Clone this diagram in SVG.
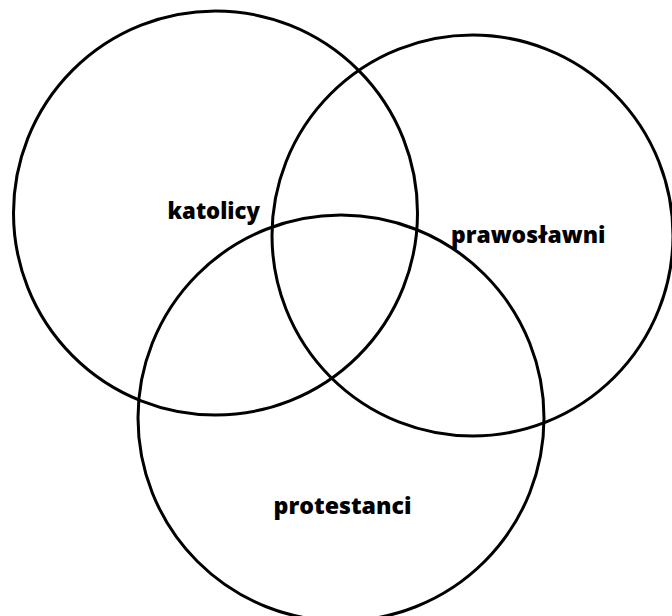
<svg xmlns="http://www.w3.org/2000/svg" width="672" height="616" viewBox="0 0 672 616">
<style>
.c{fill:none;stroke:#000;stroke-width:3}
.t{font-family:"Open Sans","Liberation Sans",sans-serif;font-weight:800;font-size:23.5px;fill:#000}
</style>
<rect width="672" height="616" fill="#fff"/>
<g id="katolicy">
<circle class="c" cx="215.5" cy="213" r="202"/>
<text class="t" x="167.5" y="218.5" textLength="92.5" lengthAdjust="spacingAndGlyphs">katolicy</text>
</g>
<g id="prawoslawni">
<circle class="c" cx="472.5" cy="235.5" r="200.5"/>
<text class="t" x="451" y="242.5" textLength="154.5" lengthAdjust="spacingAndGlyphs">prawosławni</text>
</g>
<g id="protestanci">
<circle class="c" cx="341" cy="418" r="203"/>
<text class="t" x="273.5" y="513.5" textLength="138" lengthAdjust="spacingAndGlyphs">protestanci</text>
</g>
<g id="connectors"/>
</svg>
